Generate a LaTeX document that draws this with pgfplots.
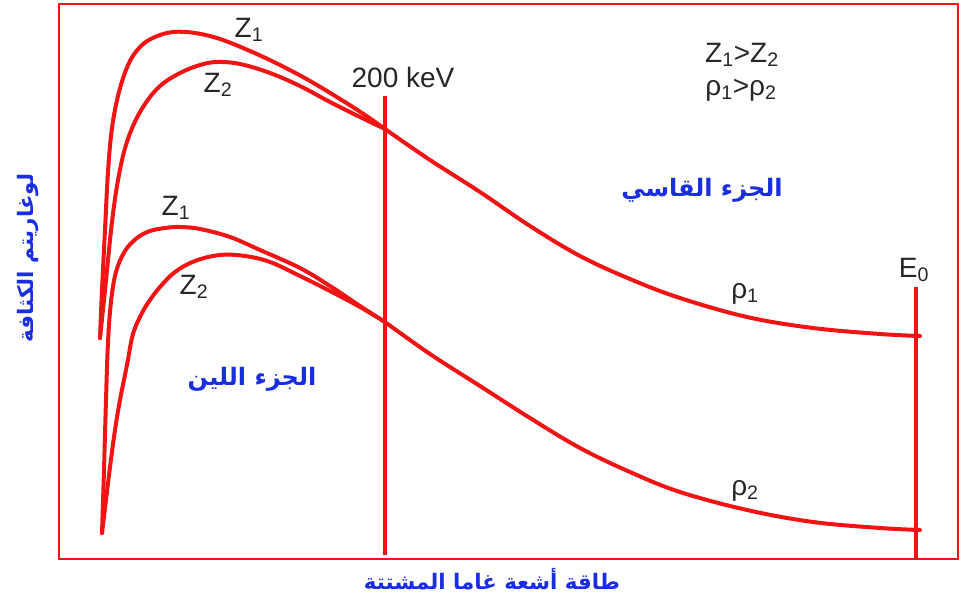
\documentclass[border=0pt]{standalone}
\usepackage{fontspec}
\usepackage{pgfplots}
\pgfplotsset{compat=1.18}
\TeXXeTstate=1
\setmainfont{Liberation Sans}
\newfontfamily\arabicfont[Script=Arabic]{DejaVu Sans}
\definecolor{curvered}{RGB}{240,20,20}
\definecolor{labelblue}{RGB}{25,45,225}
\tikzset{
  latin/.style={font=\fontsize{21}{24}\selectfont, text=black!85},
  arab/.style={font=\arabicfont\bfseries\fontsize{18}{22}\selectfont, text=labelblue},
  arabtitle/.style={font=\arabicfont\bfseries\fontsize{16}{19}\selectfont, text=labelblue},
}
\pgfplotsset{
  spectrum/.style={curvered, line width=3pt, line cap=round, line join=round, mark=none, smooth, tension=0.6},
  marker line/.style={curvered, line width=2.4pt, line cap=butt, mark=none},
}

\begin{document}
\begin{tikzpicture}
\begin{axis}[
  x=0.75pt, y=0.75pt,
  y dir=reverse,
  xmin=59, xmax=958, ymin=4, ymax=559,
  axis line style={curvered, line width=1.1pt},
  ticks=none,
  clip=false,
]
% overall extent of the figure
\path (axis cs:0,0) rectangle (axis cs:961,598);

% upper pair (high density), Z1 branch
\addplot[spectrum] coordinates {(100,338) (102,290) (105,230) (108,172) (112,128) (119,92) (129,63) (141,46) (155,37) (173,32) (195,33) (220,39) (250,51) (280,65) (310,81) (340,99) (365,115) (385,129)};
% upper pair, Z2 branch
\addplot[spectrum] coordinates {(100,338) (104,300) (108,260) (112,222) (117,186) (124,152) (133,126) (145,104) (160,86) (180,73) (200,65) (217,62) (240,64) (270,73) (300,86) (330,102) (360,117) (385,129)};
% common high-energy tail, rho1
\addplot[spectrum] coordinates {(385,129) (430,160) (480,192) (530,226) (580,256) (630,279) (680,298) (747,317) (813,328) (880,334) (920,336)};

% lower pair (low density), Z1 branch
\addplot[spectrum] coordinates {(102,533) (104,470) (106,400) (108,342) (111,302) (116,272) (125,251) (137,238) (150,231) (165,228) (180,227) (200,229) (230,237) (260,250) (300,268) (330,286) (360,306) (385,322)};
% lower pair, Z2 branch
\addplot[spectrum] coordinates {(102,533) (106,500) (110,467) (115,430) (120,400) (127,365) (133,334) (142,313) (150,300) (160,287) (175,272) (195,261) (220,255) (245,256) (270,262) (300,276) (330,291) (360,307) (385,322)};
% common high-energy tail, rho2
\addplot[spectrum] coordinates {(385,322) (430,354) (480,386) (530,418) (580,448) (630,472) (680,492) (747,510) (813,522) (880,528) (920,530)};

% 200 keV marker and end-point energy E0
\addplot[marker line] coordinates {(385,96) (385,555)};
\addplot[marker line] coordinates {(916,287) (916,559)};

% curve annotations
\node[latin] at (axis cs:249,30) {Z\textsubscript{1}};
\node[latin] at (axis cs:218,85) {Z\textsubscript{2}};
\node[latin] at (axis cs:176,208) {Z\textsubscript{1}};
\node[latin] at (axis cs:194,287) {Z\textsubscript{2}};
\node[latin] at (axis cs:403,77) {200 keV};
\node[latin] at (axis cs:742,55) {Z\textsubscript{1}>Z\textsubscript{2}};
\node[latin] at (axis cs:741,90) {ρ\textsubscript{1}>ρ\textsubscript{2}};
\node[latin] at (axis cs:745,294) {ρ\textsubscript{1}};
\node[latin] at (axis cs:745,491) {ρ\textsubscript{2}};
\node[latin] at (axis cs:914,270) {E\textsubscript{0}};

% region names and axis titles
\node[arab] at (axis cs:702,190) {\beginR الجزء القاسي\endR};
\node[arab] at (axis cs:252,379) {\beginR الجزء اللين\endR};
\node[arabtitle, rotate=90] at (axis cs:28,258) {\beginR لوغاريتم الكثافة\endR};
\node[arabtitle] at (axis cs:492,579) {\beginR طاقة أشعة غاما المشتتة\endR};
\end{axis}
\end{tikzpicture}
\end{document}
